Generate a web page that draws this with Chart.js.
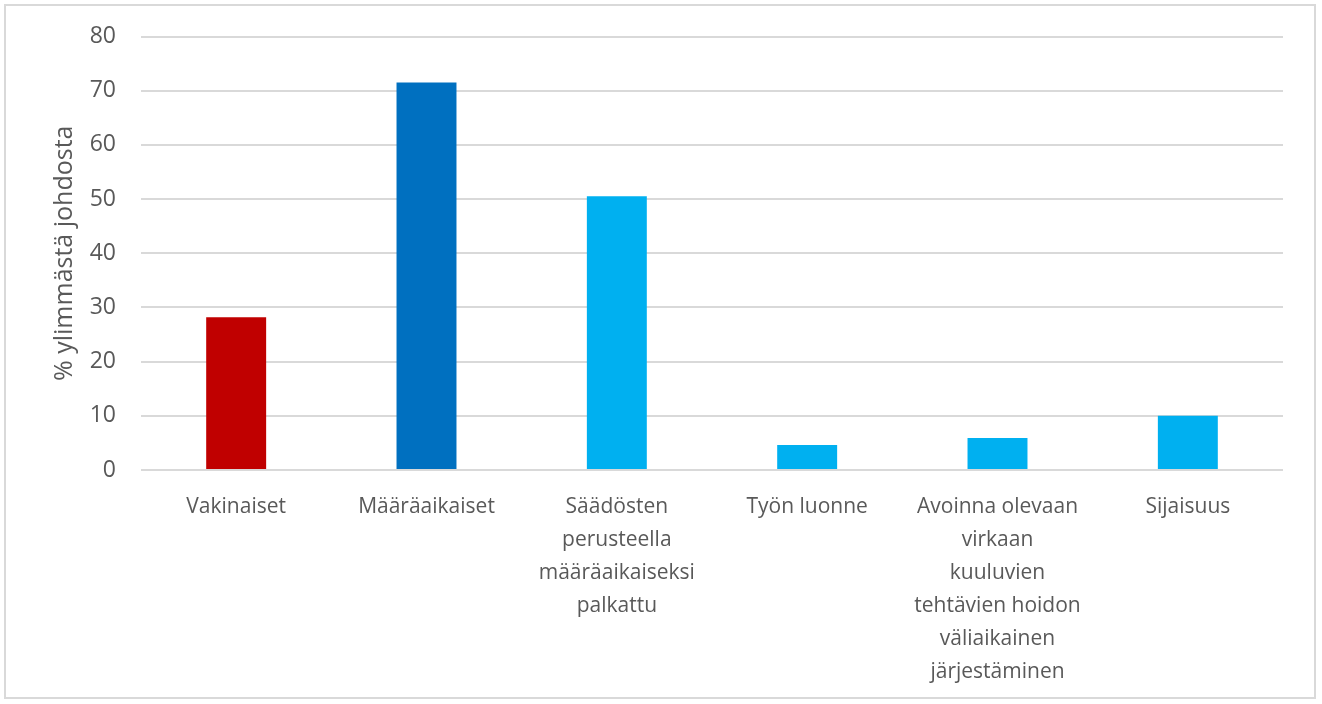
<!DOCTYPE html>
<html>
<head>
<meta charset="utf-8">
<script src="https://cdn.jsdelivr.net/npm/chart.js@4"></script>
<style>
  html, body { margin: 0; padding: 0; background: #fff; }
  #box { position: absolute; left: 4px; top: 4px; width: 1308px; height: 691px; border: 2px solid #d9d9d9; background: #fff; }
  canvas { display: block; }
</style>
</head>
<body>
<div id="box"><canvas id="c" width="1308" height="691"></canvas></div>
<script>
const categories = [
  "Vakinaiset",
  "Määräaikaiset",
  ["Säädösten", "perusteella", "määräaikaiseksi", "palkattu"],
  "Työn luonne",
  ["Avoinna olevaan", "virkaan", "kuuluvien", "tehtävien hoidon", "väliaikainen", "järjestäminen"],
  "Sijaisuus"
];
const values = [28.2, 71.5, 50.5, 4.6, 5.9, 10.0];
const barColors = ["#C00000", "#0070C0", "#00B0F0", "#00B0F0", "#00B0F0", "#00B0F0"];
const yTitle = "% ylimmästä johdosta";

const FONT = "'Open Sans', 'Liberation Sans', sans-serif";

new Chart(document.getElementById('c'), {
  type: 'bar',
  data: {
    labels: categories,
    datasets: [{
      data: values,
      backgroundColor: barColors,
      borderWidth: 0,
      barPercentage: 0.315,
      categoryPercentage: 1.0
    }]
  },
  options: {
    responsive: false,
    animation: false,
    layout: { padding: { left: 0, right: 31, top: 0, bottom: 0 } },
    plugins: { legend: { display: false }, tooltip: { enabled: false } },
    scales: {
      x: {
        grid: { display: false, drawTicks: false },
        border: { display: false },
        ticks: {
          color: '#595959',
          font: { family: FONT, size: 21, lineHeight: 1.57 },
          padding: 21,
          maxRotation: 0,
          autoSkip: false
        },
        afterFit(scale) { scale.height = 227; }
      },
      y: {
        min: 0, max: 80,
        ticks: {
          stepSize: 10,
          color: '#595959',
          font: { family: FONT, size: 23 },
          padding: 25
        },
        grid: { color: '#d9d9d9', lineWidth: 2, drawTicks: false },
        border: { display: false },
        title: {
          display: true,
          text: yTitle,
          color: '#595959',
          font: { family: FONT, size: 25 },
          padding: { top: 44, bottom: 0 }
        },
        afterFit(scale) {
          scale.width = 135;
          scale.paddingTop = 30.5;
          scale.paddingBottom = 14;
        }
      }
    }
  }
});
</script>
</body>
</html>
